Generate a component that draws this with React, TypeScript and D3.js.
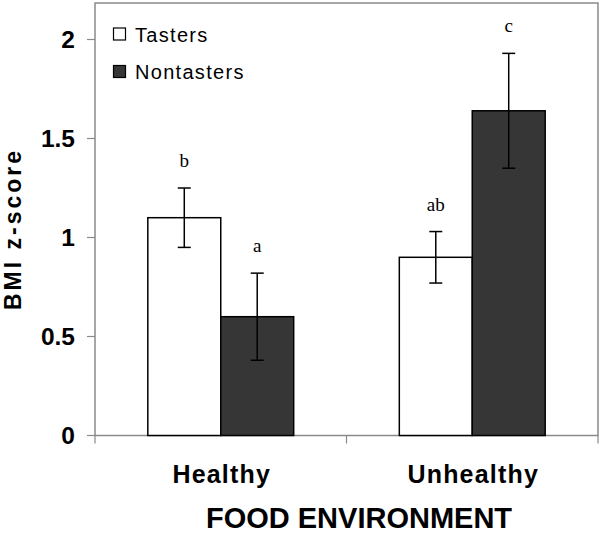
import React from "react";
import * as d3 from "d3";

const categories = ["Healthy", "Unhealthy"];
const seriesNames = ["Tasters", "Nontasters"];
const tasters = [1.1, 0.9];
const nontasters = [0.6, 1.64];
const tastersErr = [0.15, 0.13];
const nontastersErr = [0.22, 0.29];
const tastersLetters = ["b", "ab"];
const nontastersLetters = ["a", "c"];
const yTicks = [0, 0.5, 1, 1.5, 2];
const yTickLabels = ["0", "0.5", "1", "1.5", "2"];
const yTitle = "BMI z-score";
const xTitle = "FOOD ENVIRONMENT";

const W = 601;
const H = 533;
const left = 95;
const right = 598;
const top = 3;
const bottom = 435.5;

export default function App() {
  const x0 = d3.scaleBand().domain(categories).range([left, right]).padding(0);
  const bw = x0.bandwidth();
  const gw = bw * 0.58;
  const off = (bw - gw) / 2;
  const x1 = d3.scaleBand().domain(seriesNames).range([off, off + gw]).padding(0);
  const y = d3.scaleLinear().domain([0, 2]).range([bottom, 39.5]);

  const rows = categories.flatMap((c, i) => [
    { cat: c, s: "Tasters", v: tasters[i], e: tastersErr[i], l: tastersLetters[i], fill: "#ffffff" },
    { cat: c, s: "Nontasters", v: nontasters[i], e: nontastersErr[i], l: nontastersLetters[i], fill: "#363636" },
  ]);

  const axisColor = "#8a8a8a";
  const sans = "'Liberation Sans', Arial, sans-serif";
  const serif = "'Liberation Serif', 'Times New Roman', serif";

  return (
    <svg width={W} height={H} style={{ position: "absolute", left: 0, top: 0, background: "#fff" }}>
      <rect x={0} y={0} width={W} height={H} fill="#fff" />
      <rect x={left} y={top} width={right - left} height={bottom - top} fill="none" stroke={axisColor} strokeWidth={1.5} />
      {yTicks.map((t, i) => (
        <g key={t}>
          <line x1={left - 8} x2={left} y1={y(t)} y2={y(t)} stroke={axisColor} strokeWidth={1.2} />
          <text x={75} y={y(t)} dy="0.36em" textAnchor="end" fontFamily={sans} fontWeight="bold" fontSize={24.5}>
            {yTickLabels[i]}
          </text>
        </g>
      ))}
      {[left, x0(categories[1])!, right].map((v, i) => (
        <line key={i} x1={v} x2={v} y1={bottom} y2={bottom + 8} stroke={axisColor} strokeWidth={1.2} />
      ))}
      {rows.map((r, i) => {
        const bx = x0(r.cat)! + x1(r.s)!;
        const cx = bx + x1.bandwidth() / 2;
        return (
          <g key={i}>
            <rect x={bx} y={y(r.v)} width={x1.bandwidth()} height={bottom - y(r.v)} fill={r.fill} stroke="#000" strokeWidth={1.5} />
            <line x1={cx} x2={cx} y1={y(r.v + r.e)} y2={y(r.v - r.e)} stroke="#000" strokeWidth={1.5} />
            <line x1={cx - 6.5} x2={cx + 6.5} y1={y(r.v + r.e)} y2={y(r.v + r.e)} stroke="#000" strokeWidth={1.5} />
            <line x1={cx - 6.5} x2={cx + 6.5} y1={y(r.v - r.e)} y2={y(r.v - r.e)} stroke="#000" strokeWidth={1.5} />
            <text x={cx} y={y(r.v + r.e) - 21} textAnchor="middle" fontFamily={serif} fontSize={19}>
              {r.l}
            </text>
          </g>
        );
      })}
      {seriesNames.map((s, i) => (
        <g key={s}>
          <rect x={113.5} y={28 + i * 37.5} width={12} height={12} fill={i === 0 ? "#fff" : "#363636"} stroke="#000" strokeWidth={1.2} />
          <text x={135} y={41.5 + i * 37} fontFamily={sans} fontSize={20} letterSpacing={1.3}>
            {s}
          </text>
        </g>
      ))}
      {categories.map((c) => (
        <text key={c} x={x0(c)! + bw / 2 + 1} y={483} textAnchor="middle" fontFamily={sans} fontWeight="bold" fontSize={25} letterSpacing={1.2}>
          {c}
        </text>
      ))}
      <text x={359} y={528} textAnchor="middle" fontFamily={sans} fontWeight="bold" fontSize={29}>
        {xTitle}
      </text>
      <text transform="translate(21,229) rotate(-90)" textAnchor="middle" fontFamily={sans} fontWeight="bold" fontSize={23} letterSpacing={3}>
        {yTitle}
      </text>
    </svg>
  );
}
